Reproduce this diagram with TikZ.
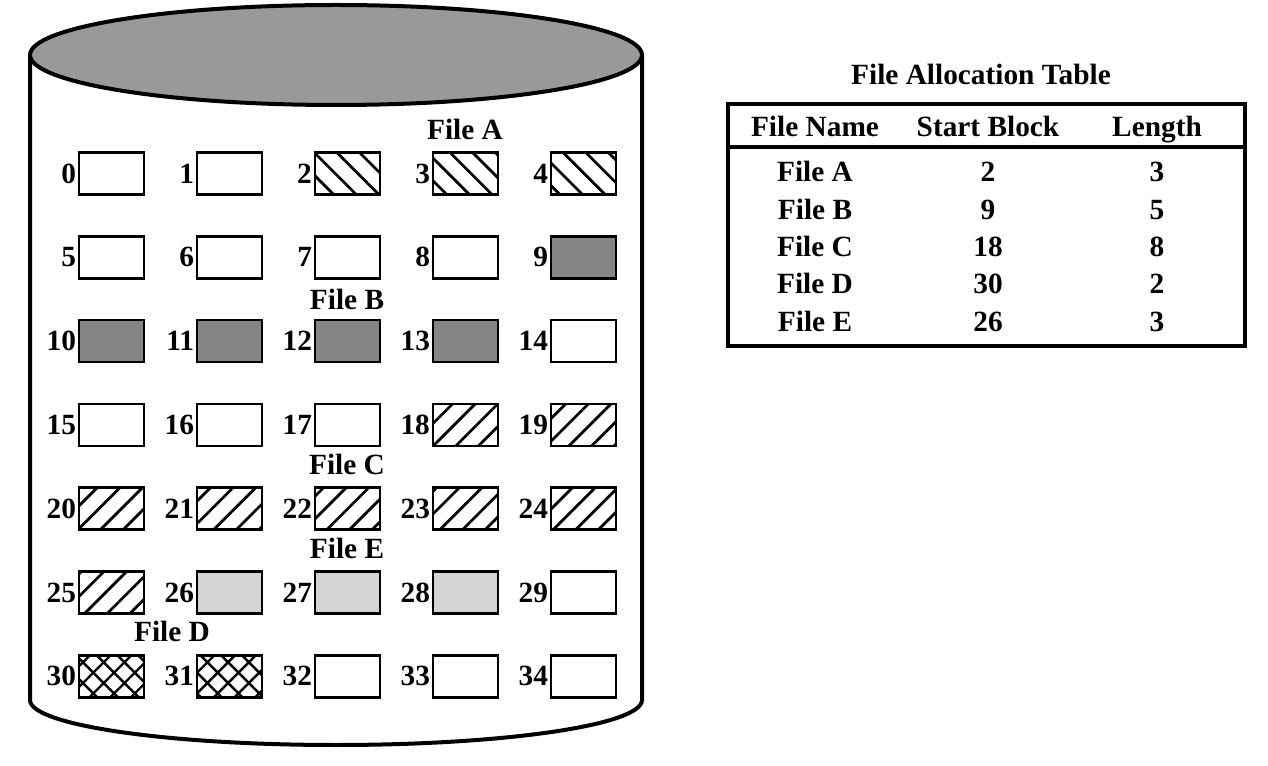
\documentclass[tikz,border=0pt]{standalone}
\usepackage{fontspec}
\setmainfont{Liberation Serif}
\usetikzlibrary{patterns.meta}
\definecolor{topgray}{HTML}{999999}
\definecolor{bgray}{HTML}{858585}
\definecolor{egray}{HTML}{D4D4D4}
\begin{document}
\begin{tikzpicture}[x=0.75pt,y=-0.75pt,
  txt/.style={font=\fontsize{22}{24}\selectfont\bfseries, inner sep=0pt, text height=14.5pt, text depth=0pt},
  blk/.style={draw, line width=1.9pt, minimum width=49pt, minimum height=31.5pt, inner sep=0pt},
  free/.style={fill=white},
  fa/.style={pattern={Lines[angle=-45,distance=12pt,line width=2.1pt]}},
  fc/.style={pattern={Lines[angle=45,distance=12pt,line width=2.1pt]}},
  fb/.style={fill=bgray},
  fe/.style={fill=egray},
  fd/.style={pattern={Lines[angle=45,distance=11pt,line width=1.8pt]},
             postaction={pattern={Lines[angle=-45,distance=11pt,line width=1.8pt]}}},
  num/.style={txt, anchor=east, xshift=-1pt},
  tline/.style={line width=2.3pt}
]
\useasboundingbox (0,0) rectangle (1268,766);
% cylinder
\draw[line width=3pt, fill=white] (30,55) -- (30,700)
  .. controls (30,725) and (167,745) .. (336,745)
  .. controls (505,745) and (642,725) .. (642,700) -- (642,55);
\draw[line width=3pt, fill=topgray] (336,55) ellipse [x radius=306, y radius=50];
% blocks
\foreach \i/\s in {0/free,1/free,2/fa,3/fa,4/fa,
                   5/free,6/free,7/free,8/free,9/fb,
                   10/fb,11/fb,12/fb,13/fb,14/free,
                   15/free,16/free,17/free,18/fc,19/fc,
                   20/fc,21/fc,22/fc,23/fc,24/fc,
                   25/fc,26/fe,27/fe,28/fe,29/free,
                   30/fd,31/fd,32/free,33/free,34/free} {
  \pgfmathtruncatemacro\r{int(\i/5)}
  \pgfmathtruncatemacro\c{mod(\i,5)}
  \node[blk, \s] (b\i) at ({111.5+118*\c},{173.5+83.8*\r}) {};
  \node[num] (n\i) at (b\i.west) {\i};
}
% file labels
\node[txt] (la) at (465,130) {File A};
\node[txt] (lb) at (347,300) {File B};
\node[txt] (lc) at (347,465) {File C};
\node[txt] (le) at (347,549) {File E};
\node[txt] (ld) at (172,632) {File D};
% table
\node[txt] (title) at (981,75) {File Allocation Table};
\draw[tline] (728,104) rectangle (1245,346);
\draw[line width=3.2pt] (728,147) -- (1245,147);
\node[txt] (h1) at (815,127) {File Name};
\node[txt] (h2) at (988,127) {Start Block};
\node[txt] (h3) at (1157,127) {Length};
\foreach \k/\f/\s/\l/\y in {1/A/2/3/172, 2/B/9/5/210, 3/C/18/8/247, 4/D/30/2/284, 5/E/26/3/322} {
  \node[txt] (tf\k) at (815,\y) {File \f};
  \node[txt] (ts\k) at (988,\y) {\s};
  \node[txt] (tl\k) at (1157,\y) {\l};
}
\end{tikzpicture}
\end{document}
